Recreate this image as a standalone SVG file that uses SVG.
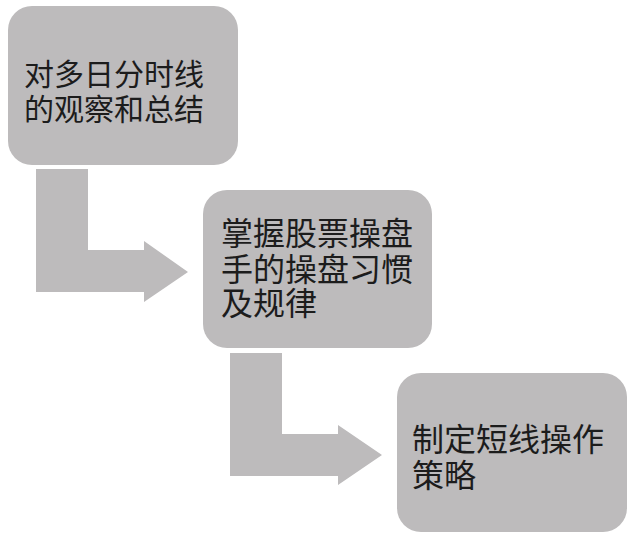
<svg xmlns="http://www.w3.org/2000/svg" width="631" height="537" viewBox="0 0 631 537">
<style>
.box{fill:#bdbbbc}
.arr{fill:#bdbbbc}
.t{font-family:"Noto Sans CJK SC","Noto Sans CJK TC",sans-serif;fill:#1c1c1c}
</style>
<rect width="631" height="537" fill="#ffffff"/>
<g id="connectors">
<path class="arr" d="M36,169 H88 V250 H144 V241 L188,272 L144,302 V292 H36 Z"/>
<path class="arr" d="M230,353 H282 V434 H338 V425 L382,455 L338,485 V476 H230 Z"/>
</g>
<g id="node1">
<rect class="box" x="8" y="6" width="230" height="159" rx="24"/>
<text class="t" font-size="30"><tspan x="24" y="85">对多日分时线</tspan><tspan x="24" y="120">的观察和总结</tspan></text>
</g>
<g id="node2">
<rect class="box" x="203" y="190" width="229" height="158" rx="24"/>
<text class="t" font-size="32"><tspan x="221" y="245">掌握股票操盘</tspan><tspan x="221" y="281">手的操盘习惯</tspan><tspan x="221" y="315">及规律</tspan></text>
</g>
<g id="node3">
<rect class="box" x="397" y="373" width="230" height="159" rx="24"/>
<text class="t" font-size="32"><tspan x="412" y="451">制定短线操作</tspan><tspan x="412" y="487">策略</tspan></text>
</g>
</svg>
